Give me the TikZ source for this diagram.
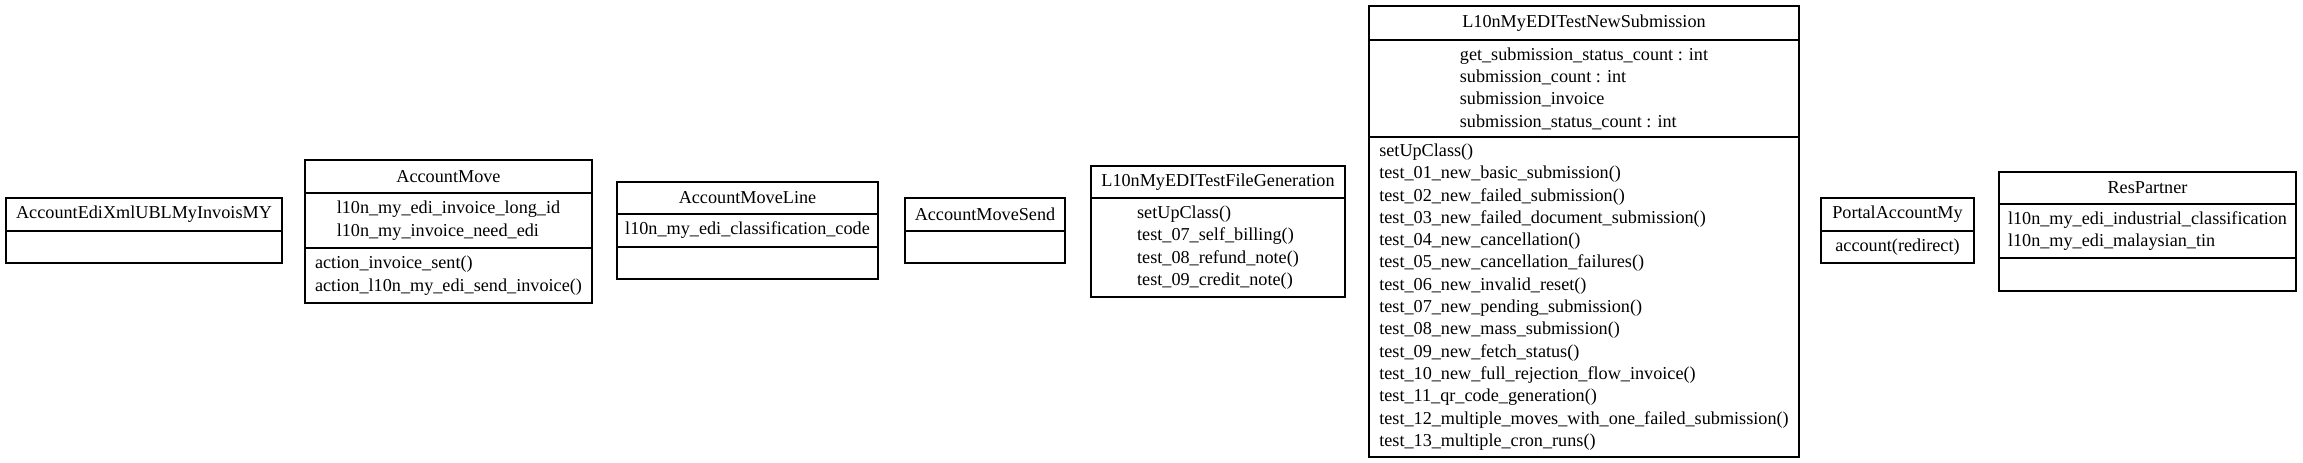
\documentclass[tikz,border=0pt]{standalone}
\usepackage{fontspec}
\setmainfont{Liberation Serif}
\tikzset{part/.style 2 args={draw=black,line width=0.7pt,inner sep=0pt,outer sep=0pt,anchor=north west,align=left,
  minimum width=#1*0.5pt,minimum height=#2*0.5pt,font=\fontsize{9.1}{11.15}\selectfont}}

\begin{document}
\begin{tikzpicture}[x=0.5pt,y=-0.5pt]
 \useasboundingbox (0,0) rectangle (2303,462);
 \node[part={276}{33}] (edi-h) at (6,198) {AccountEdiXmlUBLMyInvoisMY};
 \node[part={276}{32}] (edi-b) at (edi-h.south west) {};

 \node[part={287}{33}] (move-h) at (305,160) {AccountMove};
 \node[part={287}{55}] (move-a) at (move-h.south west) {l10n\_my\_edi\_invoice\_long\_id\\l10n\_my\_invoice\_need\_edi};
 \node[part={287}{55}] (move-m) at (move-a.south west) {action\_invoice\_sent()\\action\_l10n\_my\_edi\_send\_invoice()};

 \node[part={261}{32}] (line-h) at (617,182) {AccountMoveLine};
 \node[part={261}{33}] (line-a) at (line-h.south west) {l10n\_my\_edi\_classification\_code};
 \node[part={261}{32}] (line-m) at (line-a.south west) {};

 \node[part={160}{33}] (send-h) at (905,198) {AccountMoveSend};
 \node[part={160}{32}] (send-b) at (send-h.south west) {};

 \node[part={254}{32}] (fgen-h) at (1091,166) {L10nMyEDITestFileGeneration};
 \node[part={254}{99}] (fgen-m) at (fgen-h.south west) {setUpClass()\\test\_07\_self\_billing()\\test\_08\_refund\_note()\\test\_09\_credit\_note()};

 \node[part={430}{34}] (nsub-h) at (1369,6) {L10nMyEDITestNewSubmission};
 \node[part={430}{97}] (nsub-a) at (nsub-h.south west) {get\_submission\_status\_count : int\\submission\_count : int\\submission\_invoice\\submission\_status\_count : int};
 \node[part={430}{320}] (nsub-m) at (nsub-a.south west) {setUpClass()\\test\_01\_new\_basic\_submission()\\test\_02\_new\_failed\_submission()\\
  test\_03\_new\_failed\_document\_submission()\\test\_04\_new\_cancellation()\\test\_05\_new\_cancellation\_failures()\\
  test\_06\_new\_invalid\_reset()\\test\_07\_new\_pending\_submission()\\test\_08\_new\_mass\_submission()\\
  test\_09\_new\_fetch\_status()\\test\_10\_new\_full\_rejection\_flow\_invoice()\\test\_11\_qr\_code\_generation()\\
  test\_12\_multiple\_moves\_with\_one\_failed\_submission()\\test\_13\_multiple\_cron\_runs()};

 \node[part={153}{33}] (portal-h) at (1821,198) {PortalAccountMy};
 \node[part={153}{32}] (portal-m) at (portal-h.south west) {account(redirect)};

 \node[part={297}{32}] (partner-h) at (1999,172) {ResPartner};
 \node[part={297}{54}] (partner-a) at (partner-h.south west) {l10n\_my\_edi\_industrial\_classification\\l10n\_my\_edi\_malaysian\_tin};
 \node[part={297}{33}] (partner-m) at (partner-a.south west) {};
\end{tikzpicture}
\end{document}
